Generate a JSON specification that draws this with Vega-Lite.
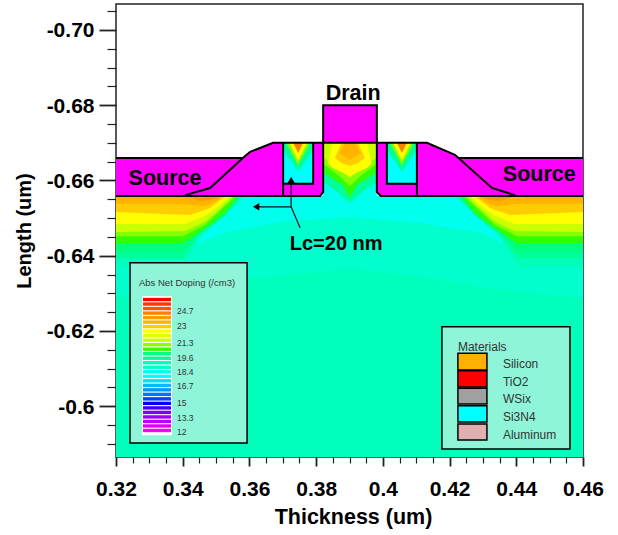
{"$schema":"https://vega.github.io/schema/vega-lite/v6.json","width":467,"height":453,"autosize":{"type":"none"},"padding":{"left":116,"top":4,"right":35,"bottom":78},"background":"white","config":{"font":"Liberation Sans","view":{"stroke":"#222","strokeWidth":1.5,"fill":"white"}},
"datasets":{
"fills":[
{"part":"bulk","band":"b14","x":0.32,"y":-0.5865,"y2":-0.6559},{"part":"bulk","band":"b14","x":0.46,"y":-0.5865,"y2":-0.6559},
{"part":"L1","band":"b15","x":0.32,"y":-0.629,"y2":-0.6559},{"part":"L1","band":"b15","x":0.3452,"y":-0.6328,"y2":-0.6559},{"part":"L1","band":"b15","x":0.3662,"y":-0.6343,"y2":-0.6559},{"part":"L1","band":"b15","x":0.3901,"y":-0.6367,"y2":-0.6559},{"part":"L1","band":"b15","x":0.4141,"y":-0.6341,"y2":-0.6559},{"part":"L1","band":"b15","x":0.4351,"y":-0.6309,"y2":-0.6559},{"part":"L1","band":"b15","x":0.46,"y":-0.6288,"y2":-0.6559},
{"part":"L2","band":"b16","x":0.3401,"y":-0.6434,"y2":-0.6559},{"part":"L2","band":"b16","x":0.3422,"y":-0.6423,"y2":-0.6559},{"part":"L2","band":"b16","x":0.3521,"y":-0.646,"y2":-0.6559},{"part":"L2","band":"b16","x":0.3692,"y":-0.649,"y2":-0.6559},{"part":"L2","band":"b16","x":0.3901,"y":-0.6503,"y2":-0.6559},{"part":"L2","band":"b16","x":0.4111,"y":-0.6487,"y2":-0.6559},{"part":"L2","band":"b16","x":0.43,"y":-0.646,"y2":-0.6559},{"part":"L2","band":"b16","x":0.4381,"y":-0.6423,"y2":-0.6559},{"part":"L2","band":"b16","x":0.4402,"y":-0.6434,"y2":-0.6559},
{"part":"AL","band":"b14","x":0.32,"y":-0.637,"y2":-0.6559},{"part":"AL","band":"b14","x":0.3398,"y":-0.637,"y2":-0.6559},{"part":"AL","band":"b14","x":0.3452,"y":-0.645,"y2":-0.6559},{"part":"AL","band":"b14","x":0.3527,"y":-0.6508,"y2":-0.6559},{"part":"AL","band":"b14","x":0.3587,"y":-0.6559,"y2":-0.6559},
{"part":"AR","band":"b14","x":0.4216,"y":-0.6559,"y2":-0.6559},{"part":"AR","band":"b14","x":0.4276,"y":-0.6508,"y2":-0.6559},{"part":"AR","band":"b14","x":0.4351,"y":-0.645,"y2":-0.6559},{"part":"AR","band":"b14","x":0.4405,"y":-0.637,"y2":-0.6559},{"part":"AR","band":"b14","x":0.46,"y":-0.637,"y2":-0.6559},
{"part":"BL","band":"b13","x":0.32,"y":-0.6394,"y2":-0.6559},{"part":"BL","band":"b13","x":0.3401,"y":-0.6394,"y2":-0.6559},{"part":"BL","band":"b13","x":0.3452,"y":-0.6455,"y2":-0.6559},{"part":"BL","band":"b13","x":0.3527,"y":-0.6506,"y2":-0.6559},{"part":"BL","band":"b13","x":0.3578,"y":-0.6559,"y2":-0.6559},
{"part":"BR","band":"b13","x":0.4225,"y":-0.6559,"y2":-0.6559},{"part":"BR","band":"b13","x":0.4276,"y":-0.6506,"y2":-0.6559},{"part":"BR","band":"b13","x":0.4351,"y":-0.6455,"y2":-0.6559},{"part":"BR","band":"b13","x":0.4402,"y":-0.6394,"y2":-0.6559},{"part":"BR","band":"b13","x":0.46,"y":-0.6394,"y2":-0.6559},
{"part":"CL","band":"b12","x":0.32,"y":-0.641,"y2":-0.6559},{"part":"CL","band":"b12","x":0.3401,"y":-0.641,"y2":-0.6559},{"part":"CL","band":"b12","x":0.3467,"y":-0.6476,"y2":-0.6559},{"part":"CL","band":"b12","x":0.3527,"y":-0.6508,"y2":-0.6559},{"part":"CL","band":"b12","x":0.3572,"y":-0.6559,"y2":-0.6559},
{"part":"CR","band":"b12","x":0.4231,"y":-0.6559,"y2":-0.6559},{"part":"CR","band":"b12","x":0.4276,"y":-0.6508,"y2":-0.6559},{"part":"CR","band":"b12","x":0.4336,"y":-0.6476,"y2":-0.6559},{"part":"CR","band":"b12","x":0.4402,"y":-0.641,"y2":-0.6559},{"part":"CR","band":"b12","x":0.46,"y":-0.641,"y2":-0.6559},
{"part":"DL","band":"b11","x":0.32,"y":-0.6434,"y2":-0.6559},{"part":"DL","band":"b11","x":0.3401,"y":-0.6434,"y2":-0.6559},{"part":"DL","band":"b11","x":0.3482,"y":-0.6482,"y2":-0.6559},{"part":"DL","band":"b11","x":0.3527,"y":-0.6514,"y2":-0.6559},{"part":"DL","band":"b11","x":0.3566,"y":-0.6559,"y2":-0.6559},
{"part":"DR","band":"b11","x":0.4237,"y":-0.6559,"y2":-0.6559},{"part":"DR","band":"b11","x":0.4276,"y":-0.6514,"y2":-0.6559},{"part":"DR","band":"b11","x":0.4321,"y":-0.6482,"y2":-0.6559},{"part":"DR","band":"b11","x":0.4402,"y":-0.6434,"y2":-0.6559},{"part":"DR","band":"b11","x":0.46,"y":-0.6434,"y2":-0.6559},
{"part":"EL","band":"b10","x":0.32,"y":-0.6452,"y2":-0.6559},{"part":"EL","band":"b10","x":0.3401,"y":-0.6452,"y2":-0.6559},{"part":"EL","band":"b10","x":0.3467,"y":-0.6482,"y2":-0.6559},{"part":"EL","band":"b10","x":0.3527,"y":-0.6532,"y2":-0.6559},{"part":"EL","band":"b10","x":0.356,"y":-0.6559,"y2":-0.6559},
{"part":"ER","band":"b10","x":0.4243,"y":-0.6559,"y2":-0.6559},{"part":"ER","band":"b10","x":0.4276,"y":-0.6532,"y2":-0.6559},{"part":"ER","band":"b10","x":0.4336,"y":-0.6482,"y2":-0.6559},{"part":"ER","band":"b10","x":0.4402,"y":-0.6452,"y2":-0.6559},{"part":"ER","band":"b10","x":0.46,"y":-0.6452,"y2":-0.6559},
{"part":"FL","band":"b09","x":0.32,"y":-0.6463,"y2":-0.6559},{"part":"FL","band":"b09","x":0.3407,"y":-0.6466,"y2":-0.6559},{"part":"FL","band":"b09","x":0.3467,"y":-0.649,"y2":-0.6559},{"part":"FL","band":"b09","x":0.3518,"y":-0.653,"y2":-0.6559},{"part":"FL","band":"b09","x":0.3551,"y":-0.6559,"y2":-0.6559},
{"part":"FR","band":"b09","x":0.4252,"y":-0.6559,"y2":-0.6559},{"part":"FR","band":"b09","x":0.4285,"y":-0.653,"y2":-0.6559},{"part":"FR","band":"b09","x":0.4336,"y":-0.649,"y2":-0.6559},{"part":"FR","band":"b09","x":0.4396,"y":-0.6466,"y2":-0.6559},{"part":"FR","band":"b09","x":0.46,"y":-0.6463,"y2":-0.6559},
{"part":"GL","band":"b07","x":0.32,"y":-0.6484,"y2":-0.6559},{"part":"GL","band":"b07","x":0.3407,"y":-0.6484,"y2":-0.6559},{"part":"GL","band":"b07","x":0.3467,"y":-0.6506,"y2":-0.6559},{"part":"GL","band":"b07","x":0.3512,"y":-0.6535,"y2":-0.6559},{"part":"GL","band":"b07","x":0.3542,"y":-0.6559,"y2":-0.6559},
{"part":"GR","band":"b07","x":0.4261,"y":-0.6559,"y2":-0.6559},{"part":"GR","band":"b07","x":0.4291,"y":-0.6535,"y2":-0.6559},{"part":"GR","band":"b07","x":0.4336,"y":-0.6506,"y2":-0.6559},{"part":"GR","band":"b07","x":0.4396,"y":-0.6484,"y2":-0.6559},{"part":"GR","band":"b07","x":0.46,"y":-0.6484,"y2":-0.6559},
{"part":"HL","band":"b06","x":0.32,"y":-0.6516,"y2":-0.6559},{"part":"HL","band":"b06","x":0.3422,"y":-0.6508,"y2":-0.6559},{"part":"HL","band":"b06","x":0.3482,"y":-0.6527,"y2":-0.6559},{"part":"HL","band":"b06","x":0.3527,"y":-0.6559,"y2":-0.6559},
{"part":"HR","band":"b06","x":0.4276,"y":-0.6559,"y2":-0.6559},{"part":"HR","band":"b06","x":0.4321,"y":-0.6527,"y2":-0.6559},{"part":"HR","band":"b06","x":0.4381,"y":-0.6508,"y2":-0.6559},{"part":"HR","band":"b06","x":0.46,"y":-0.6516,"y2":-0.6559},
{"part":"IL","band":"b05","x":0.32,"y":-0.6538,"y2":-0.6559},{"part":"IL","band":"b05","x":0.3392,"y":-0.6538,"y2":-0.6559},{"part":"IL","band":"b05","x":0.3467,"y":-0.6532,"y2":-0.6559},{"part":"IL","band":"b05","x":0.3497,"y":-0.6543,"y2":-0.6559},{"part":"IL","band":"b05","x":0.3518,"y":-0.6559,"y2":-0.6559},
{"part":"IR","band":"b05","x":0.4285,"y":-0.6559,"y2":-0.6559},{"part":"IR","band":"b05","x":0.4306,"y":-0.6543,"y2":-0.6559},{"part":"IR","band":"b05","x":0.4336,"y":-0.6532,"y2":-0.6559},{"part":"IR","band":"b05","x":0.4411,"y":-0.6538,"y2":-0.6559},{"part":"IR","band":"b05","x":0.46,"y":-0.6538,"y2":-0.6559},
{"part":"JL","band":"b04","x":0.3407,"y":-0.6559,"y2":-0.6559},{"part":"JL","band":"b04","x":0.3452,"y":-0.6545,"y2":-0.6559},{"part":"JL","band":"b04","x":0.3482,"y":-0.6548,"y2":-0.6559},{"part":"JL","band":"b04","x":0.3512,"y":-0.6559,"y2":-0.6559},
{"part":"JR","band":"b04","x":0.4291,"y":-0.6559,"y2":-0.6559},{"part":"JR","band":"b04","x":0.4321,"y":-0.6548,"y2":-0.6559},{"part":"JR","band":"b04","x":0.4351,"y":-0.6545,"y2":-0.6559},{"part":"JR","band":"b04","x":0.4396,"y":-0.6559,"y2":-0.6559},
{"part":"sourceL","band":"metal","x":0.32,"y":-0.666,"y2":-0.6559},{"part":"sourceL","band":"metal","x":0.3581,"y":-0.666,"y2":-0.6559},{"part":"sourceL","band":"metal","x":0.3587,"y":-0.6665,"y2":-0.6559},{"part":"sourceL","band":"metal","x":0.3602,"y":-0.6676,"y2":-0.6559},{"part":"sourceL","band":"metal","x":0.3671,"y":-0.67,"y2":-0.6559},{"part":"sourceL","band":"metal","x":0.3812,"y":-0.67,"y2":-0.6559},{"part":"sourceL","band":"metal","x":0.3821,"y":-0.67,"y2":-0.6569},
{"part":"drain","band":"metal","x":0.3821,"y":-0.68,"y2":-0.67},{"part":"drain","band":"metal","x":0.3982,"y":-0.68,"y2":-0.67},
{"part":"sourceR","band":"metal","x":0.3982,"y":-0.67,"y2":-0.6569},{"part":"sourceR","band":"metal","x":0.3994,"y":-0.67,"y2":-0.6559},{"part":"sourceR","band":"metal","x":0.4132,"y":-0.67,"y2":-0.6559},{"part":"sourceR","band":"metal","x":0.4216,"y":-0.6668,"y2":-0.6559},{"part":"sourceR","band":"metal","x":0.4225,"y":-0.666,"y2":-0.6559},{"part":"sourceR","band":"metal","x":0.46,"y":-0.666,"y2":-0.6559},
{"part":"d0","band":"b16","x":0.3821,"y":-0.6559,"y2":-0.67},{"part":"d0","band":"b16","x":0.3982,"y":-0.6559,"y2":-0.67},
{"part":"dA","band":"b13","x":0.3821,"y":-0.6596,"y2":-0.67},{"part":"dA","band":"b13","x":0.3856,"y":-0.6575,"y2":-0.67},{"part":"dA","band":"b13","x":0.3901,"y":-0.654,"y2":-0.67},{"part":"dA","band":"b13","x":0.3946,"y":-0.6575,"y2":-0.67},{"part":"dA","band":"b13","x":0.3982,"y":-0.6596,"y2":-0.67},
{"part":"dB","band":"b11","x":0.3821,"y":-0.6623,"y2":-0.67},{"part":"dB","band":"b11","x":0.3856,"y":-0.6601,"y2":-0.67},{"part":"dB","band":"b11","x":0.388,"y":-0.6588,"y2":-0.67},{"part":"dB","band":"b11","x":0.3901,"y":-0.6556,"y2":-0.67},{"part":"dB","band":"b11","x":0.3922,"y":-0.6588,"y2":-0.67},{"part":"dB","band":"b11","x":0.3946,"y":-0.6601,"y2":-0.67},{"part":"dB","band":"b11","x":0.3982,"y":-0.6623,"y2":-0.67},
{"part":"dC","band":"b10","x":0.3821,"y":-0.6644,"y2":-0.67},{"part":"dC","band":"b10","x":0.3865,"y":-0.6615,"y2":-0.67},{"part":"dC","band":"b10","x":0.3901,"y":-0.6585,"y2":-0.67},{"part":"dC","band":"b10","x":0.3937,"y":-0.6615,"y2":-0.67},{"part":"dC","band":"b10","x":0.3982,"y":-0.6644,"y2":-0.67},
{"part":"dD","band":"b09","x":0.3821,"y":-0.6662,"y2":-0.67},{"part":"dD","band":"b09","x":0.3871,"y":-0.6628,"y2":-0.67},{"part":"dD","band":"b09","x":0.3901,"y":-0.6607,"y2":-0.67},{"part":"dD","band":"b09","x":0.3931,"y":-0.6628,"y2":-0.67},{"part":"dD","band":"b09","x":0.3982,"y":-0.6662,"y2":-0.67},
{"part":"dE","band":"b07","x":0.3835,"y":-0.6646,"y2":-0.6646},{"part":"dE","band":"b07","x":0.385,"y":-0.6633,"y2":-0.67},{"part":"dE","band":"b07","x":0.3901,"y":-0.6612,"y2":-0.67},{"part":"dE","band":"b07","x":0.3952,"y":-0.6633,"y2":-0.67},{"part":"dE","band":"b07","x":0.3967,"y":-0.6646,"y2":-0.6646},
{"part":"dF","band":"b06","x":0.3856,"y":-0.666,"y2":-0.666},{"part":"dF","band":"b06","x":0.3877,"y":-0.6646,"y2":-0.67},{"part":"dF","band":"b06","x":0.3901,"y":-0.6639,"y2":-0.67},{"part":"dF","band":"b06","x":0.3925,"y":-0.6646,"y2":-0.67},{"part":"dF","band":"b06","x":0.3946,"y":-0.666,"y2":-0.666},
{"part":"dG","band":"b05","x":0.3868,"y":-0.6673,"y2":-0.6673},{"part":"dG","band":"b05","x":0.3889,"y":-0.6662,"y2":-0.67},{"part":"dG","band":"b05","x":0.3901,"y":-0.6654,"y2":-0.67},{"part":"dG","band":"b05","x":0.3913,"y":-0.6662,"y2":-0.67},{"part":"dG","band":"b05","x":0.3934,"y":-0.6673,"y2":-0.6673},
{"part":"boxL","band":"b17","x":0.3701,"y":-0.6591,"y2":-0.67},{"part":"boxL","band":"b17","x":0.3791,"y":-0.6591,"y2":-0.67},
{"part":"boxR","band":"b17","x":0.4012,"y":-0.6591,"y2":-0.67},{"part":"boxR","band":"b17","x":0.4102,"y":-0.6591,"y2":-0.67},
{"part":"vAL","band":"b13","x":0.3701,"y":-0.6681,"y2":-0.67},{"part":"vAL","band":"b13","x":0.3746,"y":-0.6623,"y2":-0.67},{"part":"vAL","band":"b13","x":0.3791,"y":-0.6681,"y2":-0.67},
{"part":"vAR","band":"b13","x":0.4012,"y":-0.6681,"y2":-0.67},{"part":"vAR","band":"b13","x":0.4057,"y":-0.6623,"y2":-0.67},{"part":"vAR","band":"b13","x":0.4102,"y":-0.6681,"y2":-0.67},
{"part":"vBL","band":"b10","x":0.371,"y":-0.67,"y2":-0.67},{"part":"vBL","band":"b10","x":0.3746,"y":-0.6641,"y2":-0.67},{"part":"vBL","band":"b10","x":0.3782,"y":-0.67,"y2":-0.67},
{"part":"vBR","band":"b10","x":0.4021,"y":-0.67,"y2":-0.67},{"part":"vBR","band":"b10","x":0.4057,"y":-0.6641,"y2":-0.67},{"part":"vBR","band":"b10","x":0.4093,"y":-0.67,"y2":-0.67},
{"part":"vCL","band":"b07","x":0.3719,"y":-0.67,"y2":-0.67},{"part":"vCL","band":"b07","x":0.3746,"y":-0.6654,"y2":-0.67},{"part":"vCL","band":"b07","x":0.3773,"y":-0.67,"y2":-0.67},
{"part":"vCR","band":"b07","x":0.403,"y":-0.67,"y2":-0.67},{"part":"vCR","band":"b07","x":0.4057,"y":-0.6654,"y2":-0.67},{"part":"vCR","band":"b07","x":0.4084,"y":-0.67,"y2":-0.67},
{"part":"vDL","band":"b03","x":0.3731,"y":-0.67,"y2":-0.67},{"part":"vDL","band":"b03","x":0.3746,"y":-0.6673,"y2":-0.67},{"part":"vDL","band":"b03","x":0.3761,"y":-0.67,"y2":-0.67},
{"part":"vDR","band":"b03","x":0.4042,"y":-0.67,"y2":-0.67},{"part":"vDR","band":"b03","x":0.4057,"y":-0.6673,"y2":-0.67},{"part":"vDR","band":"b03","x":0.4072,"y":-0.67,"y2":-0.67}
],
"outlines":[
{"path":"p1","x":0.32,"y":-0.6559},{"path":"p1","x":0.3812,"y":-0.6559},{"path":"p1","x":0.3821,"y":-0.6569},{"path":"p1","x":0.3821,"y":-0.68},{"path":"p1","x":0.3982,"y":-0.68},{"path":"p1","x":0.3982,"y":-0.6569},{"path":"p1","x":0.3994,"y":-0.6559},{"path":"p1","x":0.46,"y":-0.6559},
{"path":"p2","x":0.3407,"y":-0.6561},{"path":"p2","x":0.3482,"y":-0.658},{"path":"p2","x":0.3587,"y":-0.6665},{"path":"p2","x":0.3602,"y":-0.6676},{"path":"p2","x":0.3671,"y":-0.67},{"path":"p2","x":0.4132,"y":-0.67},{"path":"p2","x":0.4216,"y":-0.6668},{"path":"p2","x":0.4327,"y":-0.658},{"path":"p2","x":0.4396,"y":-0.6561},
{"path":"p3","x":0.32,"y":-0.666},{"path":"p3","x":0.3581,"y":-0.666},
{"path":"p4","x":0.4225,"y":-0.666},{"path":"p4","x":0.46,"y":-0.666},
{"path":"p5","x":0.3791,"y":-0.67},{"path":"p5","x":0.3791,"y":-0.6591},{"path":"p5","x":0.3701,"y":-0.6591},
{"path":"p6","x":0.3701,"y":-0.67},{"path":"p6","x":0.3701,"y":-0.6559},
{"path":"p7","x":0.4012,"y":-0.67},{"path":"p7","x":0.4012,"y":-0.6591},{"path":"p7","x":0.4102,"y":-0.6591},
{"path":"p8","x":0.4102,"y":-0.67},{"path":"p8","x":0.4102,"y":-0.6559}
],
"arrows":[
{"path":"a1","x":0.3725,"y":-0.6604},{"path":"a1","x":0.3725,"y":-0.653},
{"path":"a2","x":0.3725,"y":-0.653},{"path":"a2","x":0.362,"y":-0.653},
{"path":"a3","x":0.3725,"y":-0.653},{"path":"a3","x":0.3752,"y":-0.6474}
],
"notes":[
{"x":0.3347,"y":-0.6604,"note":"Source"},{"x":0.4469,"y":-0.6615,"note":"Source"},{"x":0.3911,"y":-0.683,"note":"Drain"}
],
"lc":[{"x":0.386,"y":-0.6432,"note":"Lc=20 nm"}],
"panels":[
{"x":0.3242,"x2":0.3593,"y":-0.6381,"y2":-0.5902,"band":"panel"},{"x":0.4177,"x2":0.4561,"y":-0.6211,"y2":-0.5886,"band":"panel"}
],
"strips":[
{"x":0.3278,"x2":0.3368,"y":-0.6293,"y2":-0.5923,"band":"blank"},
{"x":0.3281,"x2":0.3365,"y":-0.6288,"y2":-0.6279,"band":"b00"},{"x":0.3281,"x2":0.3365,"y":-0.6276,"y2":-0.6267,"band":"b01"},{"x":0.3281,"x2":0.3365,"y":-0.6264,"y2":-0.6255,"band":"b02"},{"x":0.3281,"x2":0.3365,"y":-0.6252,"y2":-0.6243,"band":"b03"},{"x":0.3281,"x2":0.3365,"y":-0.624,"y2":-0.6231,"band":"b04"},{"x":0.3281,"x2":0.3365,"y":-0.6228,"y2":-0.6219,"band":"b05"},{"x":0.3281,"x2":0.3365,"y":-0.6216,"y2":-0.6207,"band":"b06"},{"x":0.3281,"x2":0.3365,"y":-0.6204,"y2":-0.6195,"band":"b07"},{"x":0.3281,"x2":0.3365,"y":-0.6192,"y2":-0.6183,"band":"b08"},{"x":0.3281,"x2":0.3365,"y":-0.618,"y2":-0.6171,"band":"b09"},{"x":0.3281,"x2":0.3365,"y":-0.6168,"y2":-0.6159,"band":"b10"},{"x":0.3281,"x2":0.3365,"y":-0.6156,"y2":-0.6147,"band":"b11"},{"x":0.3281,"x2":0.3365,"y":-0.6144,"y2":-0.6135,"band":"b12"},{"x":0.3281,"x2":0.3365,"y":-0.6132,"y2":-0.6123,"band":"b13"},{"x":0.3281,"x2":0.3365,"y":-0.612,"y2":-0.6111,"band":"b14"},{"x":0.3281,"x2":0.3365,"y":-0.6108,"y2":-0.6099,"band":"b15"},{"x":0.3281,"x2":0.3365,"y":-0.6096,"y2":-0.6087,"band":"b16"},{"x":0.3281,"x2":0.3365,"y":-0.6084,"y2":-0.6075,"band":"b17"},{"x":0.3281,"x2":0.3365,"y":-0.6072,"y2":-0.6063,"band":"b18"},{"x":0.3281,"x2":0.3365,"y":-0.606,"y2":-0.6051,"band":"b19"},{"x":0.3281,"x2":0.3365,"y":-0.6048,"y2":-0.6039,"band":"b20"},{"x":0.3281,"x2":0.3365,"y":-0.6036,"y2":-0.6027,"band":"b21"},{"x":0.3281,"x2":0.3365,"y":-0.6024,"y2":-0.6015,"band":"b22"},{"x":0.3281,"x2":0.3365,"y":-0.6012,"y2":-0.6003,"band":"b23"},{"x":0.3281,"x2":0.3365,"y":-0.6,"y2":-0.5991,"band":"b24"},{"x":0.3281,"x2":0.3365,"y":-0.5988,"y2":-0.5979,"band":"b25"},{"x":0.3281,"x2":0.3365,"y":-0.5976,"y2":-0.5967,"band":"b26"},{"x":0.3281,"x2":0.3365,"y":-0.5964,"y2":-0.5955,"band":"b27"},{"x":0.3281,"x2":0.3365,"y":-0.5952,"y2":-0.5943,"band":"b28"},{"x":0.3281,"x2":0.3365,"y":-0.594,"y2":-0.5931,"band":"b29"}
],
"swatches":[
{"x":0.4225,"x2":0.4312,"y":-0.6141,"y2":-0.6096,"band":"Silicon"},{"x":0.4225,"x2":0.4312,"y":-0.6094,"y2":-0.6051,"band":"TiO2"},{"x":0.4225,"x2":0.4312,"y":-0.6048,"y2":-0.6006,"band":"WSix"},{"x":0.4225,"x2":0.4312,"y":-0.6001,"y2":-0.5958,"band":"Si3N4"},{"x":0.4225,"x2":0.4312,"y":-0.5953,"y2":-0.591,"band":"Aluminum"}
],
"dopingTitle":[{"x":0.3413,"y":-0.6328,"t":"Abs Net Doping (/cm3)"}],
"dopingTicks":[
{"x":0.3383,"y":-0.6253,"t":"24.7"},{"x":0.3383,"y":-0.6213,"t":"23"},{"x":0.3383,"y":-0.6168,"t":"21.3"},{"x":0.3383,"y":-0.6128,"t":"19.6"},{"x":0.3383,"y":-0.6091,"t":"18.4"},{"x":0.3383,"y":-0.6054,"t":"16.7"},{"x":0.3383,"y":-0.6009,"t":"15"},{"x":0.3383,"y":-0.5969,"t":"13.3"},{"x":0.3383,"y":-0.5932,"t":"12"}
],
"materials":[
{"x":0.4225,"y":-0.6157,"t":"Materials"},{"x":0.436,"y":-0.6112,"t":"Silicon"},{"x":0.436,"y":-0.6064,"t":"TiO2"},{"x":0.436,"y":-0.6019,"t":"WSix"},{"x":0.436,"y":-0.5971,"t":"Si3N4"},{"x":0.436,"y":-0.5924,"t":"Aluminum"}
]
},
"encoding":{
"x":{"field":"x","type":"quantitative","scale":{"domain":[0.32,0.46],"nice":false,"zero":false},"axis":{"title":"Thickness (um)","titleFontSize":21.5,"titleFontWeight":"bold","titleColor":"#000","titlePadding":7,"titleX":237,"grid":false,"values":[0.32,0.325,0.33,0.335,0.34,0.345,0.35,0.355,0.36,0.365,0.37,0.375,0.38,0.385,0.39,0.395,0.4,0.405,0.41,0.415,0.42,0.425,0.43,0.435,0.44,0.445,0.45,0.455,0.46],"tickColor":"#222","tickSize":{"condition":{"test":"abs(round(datum.value*1000)%20)==0","value":9},"value":6},"tickWidth":{"condition":{"test":"abs(round(datum.value*1000)%20)==0","value":1.8},"value":1.2},"domain":false,"labelFontSize":21,"labelFontWeight":"bold","labelColor":"#000","labelPadding":12,"labelOverlap":false,"labelFlush":false,"labelBound":false,"labelExpr":"abs(round(datum.value*1000)%20)!=0?'':(abs(datum.value-0.4)<0.0001?'0.4':format(datum.value,'.2f'))"}},
"y":{"field":"y","type":"quantitative","scale":{"domain":[-0.7069,-0.5865],"reverse":true,"nice":false,"zero":false},"axis":{"title":"Length (um)","titleFontSize":20,"titleFontWeight":"bold","titleColor":"#000","titlePadding":12,"grid":false,"values":[-0.705,-0.7,-0.695,-0.69,-0.685,-0.68,-0.675,-0.67,-0.665,-0.66,-0.655,-0.65,-0.645,-0.64,-0.635,-0.63,-0.625,-0.62,-0.615,-0.61,-0.605,-0.6,-0.595,-0.59],"tickColor":"#222","tickSize":{"condition":{"test":"abs(round(datum.value*1000)%20)==0","value":17},"value":9},"tickWidth":{"condition":{"test":"abs(round(datum.value*1000)%20)==0","value":1.8},"value":1.2},"domain":false,"labelFontSize":21,"labelFontWeight":"bold","labelColor":"#000","labelPadding":5,"labelOffset":1,"labelOverlap":false,"labelBound":false,"labelExpr":"abs(round(datum.value*1000)%20)!=0?'':(abs(datum.value+0.6)<0.0001?'-0.6':'-'+format(abs(datum.value),'.2f'))"}},
"color":{"field":"band","type":"nominal","legend":null,"scale":{"domain":["b00","b01","b02","b03","b04","b05","b06","b07","b08","b09","b10","b11","b12","b13","b14","b15","b16","b17","b18","b19","b20","b21","b22","b23","b24","b25","b26","b27","b28","b29","metal","panel","blank","Silicon","TiO2","WSix","Si3N4","Aluminum"],"range":["#ff0000","#ff3300","#ff5500","#ff8000","#ff9900","#ffb300","#ffcc00","#ffff00","#ddff00","#ccff00","#88ff00","#33ff00","#00ff80","#00ff99","#00ffbb","#00ffcc","#00ffee","#00ffff","#00ddff","#00bbff","#0099ff","#0077ff","#0044ff","#0000ff","#4400ff","#7700ff","#9900ff","#bb00ff","#dd00ff","#ff00ff","#ff00ff","#8ff5d9","#ffffff","#ffb000","#ff0000","#a0a0a0","#00ffff","#e0b0b0"]}}
},
"layer":[
{"data":{"name":"fills"},"mark":{"type":"area","orient":"vertical","order":null,"interpolate":"linear"},"encoding":{"y2":{"field":"y2"},"detail":{"field":"part"}}},
{"data":{"name":"outlines"},"mark":{"type":"line","order":null,"strokeWidth":2,"strokeJoin":"miter"},"encoding":{"color":{"value":"#000"},"detail":{"field":"path"}}},
{"data":{"name":"arrows"},"mark":{"type":"line","order":null,"strokeWidth":1.2},"encoding":{"color":{"value":"#111"},"detail":{"field":"path"}}},
{"data":{"values":[{"x":0.3725,"y":-0.6601,"dir":"up"},{"x":0.362,"y":-0.653,"dir":"left"}]},"mark":{"type":"point","filled":true,"size":55,"opacity":1},"encoding":{"color":{"value":"#000"},"shape":{"field":"dir","type":"nominal","legend":null,"scale":{"domain":["up","left"],"range":["triangle-up","triangle-left"]}}}},
{"data":{"name":"notes"},"mark":{"type":"text","fontSize":21.5,"fontWeight":"bold","baseline":"middle","align":"center"},"encoding":{"text":{"field":"note"},"color":{"value":"#000"}}},
{"data":{"name":"lc"},"mark":{"type":"text","fontSize":20,"fontWeight":"bold","baseline":"middle","align":"center"},"encoding":{"text":{"field":"note"},"color":{"value":"#000"}}},
{"data":{"name":"panels"},"mark":{"type":"rect","stroke":"#000","strokeWidth":1.5},"encoding":{"x2":{"field":"x2"},"y2":{"field":"y2"}}},
{"data":{"name":"strips"},"mark":{"type":"rect"},"encoding":{"x2":{"field":"x2"},"y2":{"field":"y2"}}},
{"data":{"name":"swatches"},"mark":{"type":"rect","stroke":"#000","strokeWidth":1.5},"encoding":{"x2":{"field":"x2"},"y2":{"field":"y2"}}},
{"data":{"name":"dopingTitle"},"mark":{"type":"text","fontSize":9.5,"baseline":"middle","align":"center"},"encoding":{"text":{"field":"t"},"color":{"value":"#333"}}},
{"data":{"name":"dopingTicks"},"mark":{"type":"text","fontSize":8.5,"baseline":"middle","align":"left"},"encoding":{"text":{"field":"t"},"color":{"value":"#333"}}},
{"data":{"name":"materials"},"mark":{"type":"text","fontSize":12,"baseline":"middle","align":"left"},"encoding":{"text":{"field":"t"},"color":{"value":"#333"}}}
]
}
